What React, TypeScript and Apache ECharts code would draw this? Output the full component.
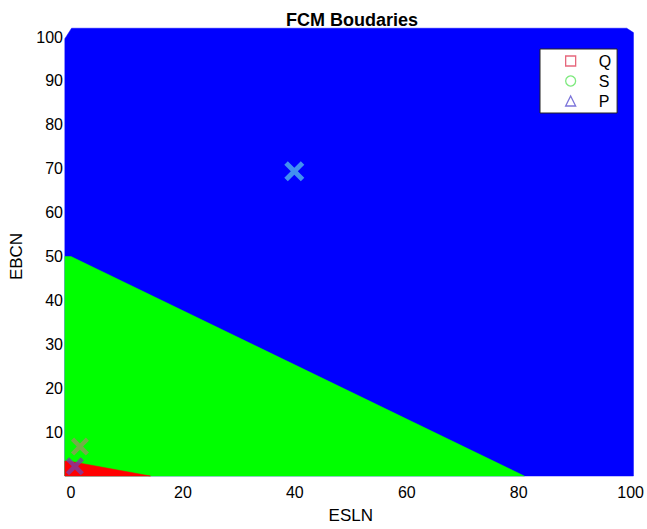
import React, { useEffect, useRef } from "react";
import * as echarts from "echarts";

// Region boundary vertices [ESLN, EBCN]
const blueRegion: number[][] = [
  [-1.1, 0], [-1.1, 99.6], [0.1, 102], [99.3, 102], [100.5, 101], [100.5, 0],
];
const greenRegion: number[][] = [
  [-1.1, 0], [-1.1, 50], [0, 50], [81, 0],
];
const redRegion: number[][] = [
  [-1.1, 0], [-1.1, 3.4], [0, 3.3], [14.2, 0],
];
const regions = [blueRegion, greenRegion, redRegion];
const regionColors = ["#0000FF", "#00FF00", "#FF0000"];

// Cluster centres
const centers: number[][] = [
  [39.9, 69.4],
  [1.6, 6.7],
  [0.7, 2.2],
];
const centerColors = ["#52B4EC", "#8F9A5A", "#7B3BA6"];
const centerSizes = [20, 18, 18];

const legendNames = ["Q", "S", "P"];
const legendIcons = ["rect", "circle", "triangle"];
const legendColors = ["#E0405A", "#5CE35C", "#5A50D0"];

const xTicks = { min: 0, max: 100, interval: 20 };
const yTicks = { min: 0, max: 100, interval: 10 };

const FONT = "'Liberation Sans', Arial, Helvetica, sans-serif";
const a = 3.5;
const X_PATH = `path://M${a},0L10,${10 - a}L${20 - a},0L20,${a}L${10 + a},10L20,${20 - a}L${20 - a},20L10,${10 + a}L${a},20L0,${20 - a}L${10 - a},10L0,${a}Z`;

export default function App() {
  const ref = useRef<HTMLDivElement>(null);
  useEffect(() => {
    if (!ref.current) return;
    const chart = echarts.init(ref.current, null, { renderer: "svg" });
    const option: any = {
      animation: false,
      backgroundColor: "#FFFFFF",
      textStyle: { fontFamily: FONT },
      title: {
        text: "FCM Boudaries",
        left: 352,
        textAlign: "center",
        top: 11,
        padding: 0,
        textStyle: { fontFamily: FONT, fontSize: 18, fontWeight: "bold", color: "#000" },
      },
      grid: { left: 71, right: 14, top: 37, bottom: 47, containLabel: false },
      xAxis: {
        type: "value",
        min: xTicks.min,
        max: xTicks.max,
        interval: xTicks.interval,
        name: "ESLN",
        nameLocation: "middle",
        nameGap: 31,
        nameTextStyle: { fontFamily: FONT, fontSize: 17, color: "#000" },
        axisLine: { show: false },
        axisTick: { show: false },
        splitLine: { show: false },
        axisLabel: { fontFamily: FONT, fontSize: 16, color: "#000", margin: 8 },
      },
      yAxis: {
        type: "value",
        min: yTicks.min,
        max: yTicks.max,
        interval: yTicks.interval,
        name: "EBCN",
        nameLocation: "middle",
        nameRotate: 90,
        nameGap: 46,
        nameTextStyle: { fontFamily: FONT, fontSize: 17, color: "#000" },
        axisLine: { show: false },
        axisTick: { show: false },
        splitLine: { show: false },
        axisLabel: {
          fontFamily: FONT,
          fontSize: 16,
          color: "#000",
          margin: 8,
          formatter: (v: number) => (v === 0 ? "" : String(v)),
        },
      },
      legend: {
        left: 540,
        top: 49,
        orient: "vertical",
        padding: [2, 6, 2, 25],
        itemGap: 0,
        itemWidth: 10,
        itemHeight: 10,
        backgroundColor: "#FFFFFF",
        borderColor: "#222",
        borderWidth: 1,
        borderRadius: 0,
        textStyle: { fontFamily: FONT, fontSize: 16, color: "#000", lineHeight: 20, padding: [0, 0, 0, 18] },
        data: legendNames.map((n, i) => ({
          name: n,
          icon: legendIcons[i],
          itemStyle: { color: "rgba(0,0,0,0)", borderColor: legendColors[i], borderWidth: 1.3 },
        })),
      },
      series: [
        {
          type: "custom",
          name: "regions",
          silent: true,
          clip: false,
          data: regions.map((_, i) => [i]),
          renderItem: (params: any, api: any) => {
            const idx = api.value(0);
            const pts = regions[idx].map((p) => api.coord(p));
            return {
              type: "polygon",
              shape: { points: pts },
              style: { fill: regionColors[idx], stroke: regionColors[idx], lineWidth: 0.5 },
            };
          },
          z: 1,
        },
        {
          type: "scatter",
          name: "centers",
          symbol: X_PATH,
          data: centers.map((c, i) => ({
            value: c,
            symbolSize: centerSizes[i],
            itemStyle: { color: centerColors[i] },
          })),
          z: 5,
        },
        ...legendNames.map((n, i) => ({
          type: "scatter",
          name: n,
          symbol: legendIcons[i],
          data: [],
          itemStyle: { color: "rgba(0,0,0,0)", borderColor: legendColors[i], borderWidth: 1.3 },
        })),
      ],
    };
    chart.setOption(option);
    return () => chart.dispose();
  }, []);
  return (
    <div
      ref={ref}
      style={{ position: "fixed", left: 0, top: 0, width: 647, height: 529 }}
    />
  );
}
